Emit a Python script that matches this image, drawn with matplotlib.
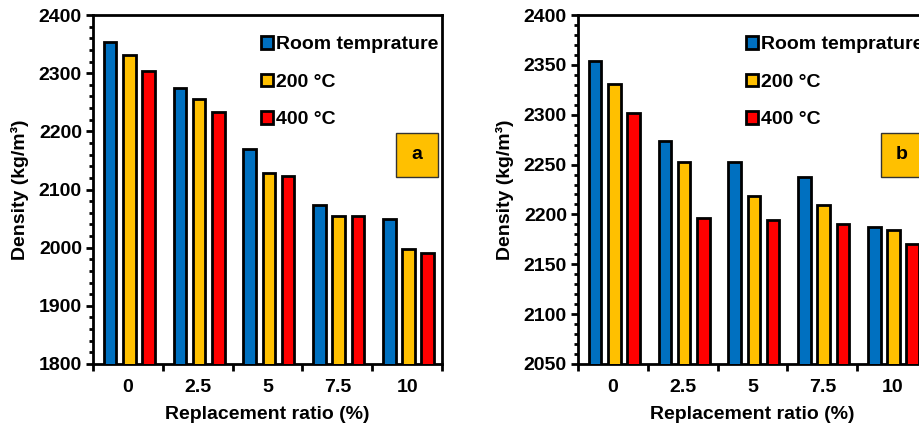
import numpy as np
import matplotlib
matplotlib.use('Agg')
import matplotlib.pyplot as plt
from matplotlib.patches import Rectangle

plt.rcParams['font.family'] = ['Liberation Sans', 'DejaVu Sans']
plt.rcParams['font.weight'] = 'bold'

ratios = ['0', '2.5', '5', '7.5', '10']
series = ['Room temprature', '200 °C', '400 °C']
colors = ['#0070C0', '#FFC000', '#FF0000']

# panel a
dens_a_room = [2354, 2275, 2169, 2073, 2049]
dens_a_200 = [2331, 2255, 2129, 2054, 1997]
dens_a_400 = [2303, 2234, 2124, 2054, 1990]

# panel b
dens_b_room = [2354, 2274, 2253, 2238, 2187]
dens_b_200 = [2331, 2253, 2218, 2209, 2184]
dens_b_400 = [2302, 2196, 2194, 2190, 2170]

fig = plt.figure(figsize=(9.19, 4.30), dpi=100)
W, H = 919, 430
ax_a = fig.add_axes([93 / W, 66 / H, 349 / W, 349 / H])
ax_b = fig.add_axes([578 / W, 66 / H, 349 / W, 349 / H])


def draw_panel(ax, vals, ylim, major, minor, tag):
    x = np.arange(len(ratios))
    offs = [-0.275, 0, 0.275]
    for v, off, c, lab in zip(vals, offs, colors, series):
        ax.bar(x + off + 0.02, v, width=0.18, color=c, edgecolor='black',
               linewidth=2, label=lab, zorder=3)
    ax.set_ylim(*ylim)
    ax.set_xlim(-0.5, 4.5)
    ax.set_yticks(np.arange(ylim[0], ylim[1] + 1, major))
    ax.set_yticks(np.arange(ylim[0], ylim[1] + 1, minor), minor=True)
    # x ticks at group boundaries, labels at centres
    ax.set_xticks(np.arange(-0.5, 5, 1))
    ax.set_xticklabels([])
    ax.set_xticks(x, minor=True)
    ax.set_xticklabels(ratios, minor=True)
    ax.tick_params(axis='x', which='major', direction='out', length=5, width=2)
    ax.tick_params(axis='x', which='minor', length=0, pad=11, labelsize=14)
    ax.tick_params(axis='y', which='major', direction='out', length=5, width=2,
                   labelsize=14, pad=3)
    ax.tick_params(axis='y', which='minor', direction='out', length=3, width=2)
    for s in ax.spines.values():
        s.set_linewidth(2)
    ax.set_xlabel('Replacement ratio (%)', fontsize=14, fontweight='bold', labelpad=7)
    ax.set_ylabel('Density (kg/m³)', fontsize=14, fontweight='bold', labelpad=7)
    ax.legend(loc='upper left', bbox_to_anchor=(0.482, 0.939), frameon=False,
              prop={'size': 14, 'weight': 'bold'}, handlelength=0.6,
              handleheight=0.6, handletextpad=0.15, labelspacing=1.05,
              borderaxespad=0, borderpad=0)
    ax.add_patch(Rectangle((0.868, 0.536), 0.121, 0.126, transform=ax.transAxes,
                           facecolor='#FFC000', edgecolor='#333333',
                           linewidth=1, zorder=4))
    ax.text(0.9285, 0.599, tag, transform=ax.transAxes, ha='center', va='center',
            fontsize=14, fontweight='bold', zorder=5)


draw_panel(ax_a, [dens_a_room, dens_a_200, dens_a_400], (1800, 2400), 100, 20, 'a')
draw_panel(ax_b, [dens_b_room, dens_b_200, dens_b_400], (2050, 2400), 50, 10, 'b')

fig.savefig('out.png', dpi=100)
